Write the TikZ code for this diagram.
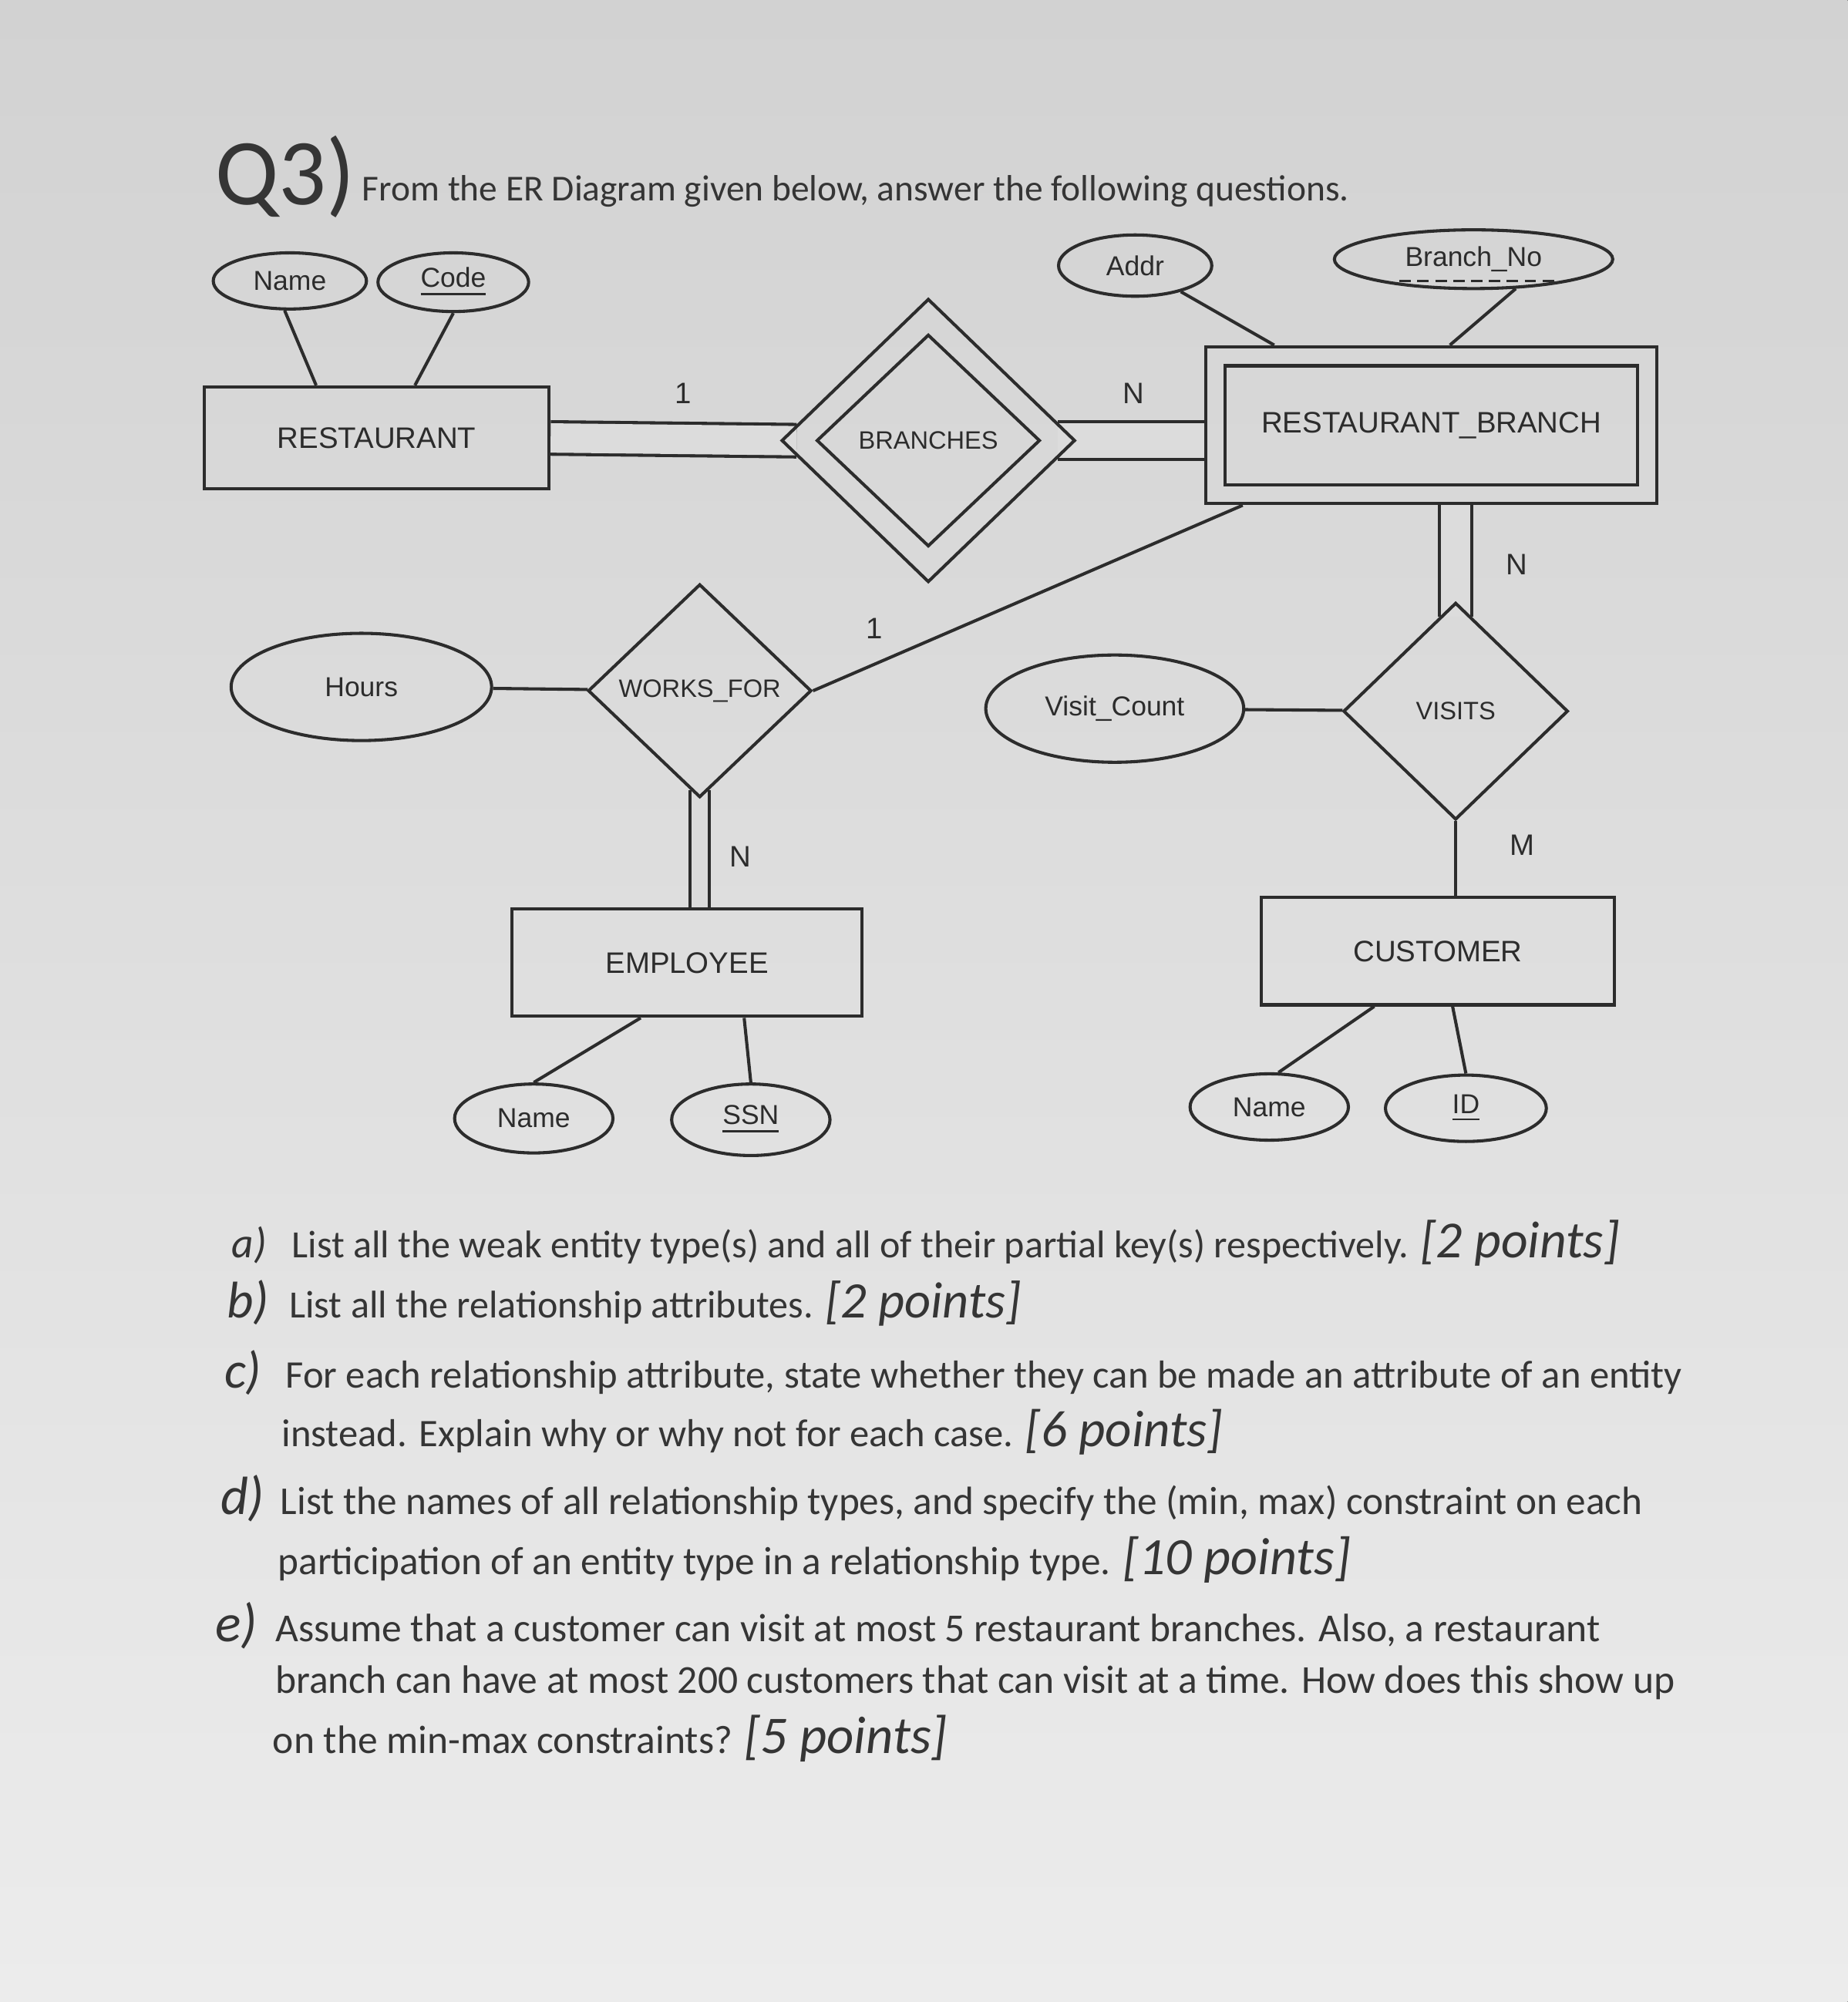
\documentclass[tikz,border=0pt]{standalone}
\usepackage{fontspec}
\setmainfont{Carlito}
\newfontfamily\diafont{Liberation Sans}
\usetikzlibrary{shapes.geometric}
\pgfdeclarelayer{paper}
\pgfdeclarelayer{back}
\pgfsetlayers{paper,back,main}

\definecolor{ink}{HTML}{2C2C2C}
\definecolor{qink}{HTML}{353535}
\definecolor{papertop}{HTML}{D2D2D2}
\definecolor{papermid}{HTML}{DCDCDC}
\definecolor{paperbot}{HTML}{ECECEC}

\newcommand{\pts}[2]{{\fontsize{#1}{#1}\selectfont\itshape[#2 points]}}
\newcommand{\qlab}[2]{{\fontsize{#1}{#1}\selectfont\itshape #2)}}

\begin{document}
\begin{tikzpicture}
[x=0.1mm,y=-0.1mm,%%%%%%%%%%%%%%%%%%%%%%%%%%%%%%
entity/.style={rectangle,draw=ink,line width=0.7pt,text=ink,inner sep=0pt,font=\diafont\fontsize{6.6}{8}\selectfont},
attr/.style={ellipse,draw=ink,line width=0.7pt,text=ink,inner sep=0pt,font=\diafont\fontsize{6.1}{7}\selectfont},
rel/.style={diamond,draw=ink,line width=0.7pt,text=ink,inner sep=0.5pt,font=\diafont\fontsize{5.6}{7}\selectfont},
card/.style={text=ink,inner sep=0pt,font=\diafont\fontsize{6.6}{8}\selectfont},
link/.style={draw=ink,line width=0.7pt},
dbl/.style={draw=ink,line width=0.7pt,double=papermid},
qline/.style={anchor=base west,inner sep=0pt,text=qink},
]%%%%%%%%%%%%%%%%%%%%%%%%%%%%%%

\useasboundingbox (0,0) rectangle (1447,1568);
\begin{pgfonlayer}{paper}
\fill[top color=papertop,bottom color=paperbot] (0,0) rectangle (1447,1568);
\end{pgfonlayer}

% heading
\node[qline,font=\fontsize{21}{24}\selectfont] (qnum) at (168,160) {Q3)};
\node[qline,font=\fontsize{8.15}{10}\selectfont] (qhead) at (283,157) {From the ER Diagram given below, answer the following questions.};

% entities and relationships
\node[entity,minimum width=27mm,minimum height=8mm] (rest) at (295,343) {RESTAURANT};
\node[attr,minimum width=12mm,minimum height=4.4mm] (rname) at (227,220) {Name};
\node[attr,minimum width=11.8mm,minimum height=4.6mm] (rcode) at (355,221) {\underline{Code}};
\node[rel,minimum width=23mm,minimum height=22.2mm] (brout) at (727,345) {};
\node[rel,minimum width=17.5mm,minimum height=16.6mm] (branches) at (727,345) {BRANCHES};
\node[entity,minimum width=35.3mm,minimum height=12.3mm] (rbout) at (1121,333) {};
\node[entity,minimum width=32.3mm,minimum height=9.3mm] (rb) at (1121,333) {RESTAURANT\_BRANCH};
\node[attr,minimum width=12mm,minimum height=4.8mm] (addr) at (889,208) {Addr};
\node[attr,minimum width=21.8mm,minimum height=4.6mm] (bno) at (1154,203) {Branch\_No};
\draw[ink,line width=0.6pt,dash pattern=on 0.9mm off 0.5mm] ([shift={(-58,17)}]bno.center) -- ([shift={(64,17)}]bno.center);
\node[rel,minimum width=17.5mm,minimum height=16.7mm] (wf) at (548,541) {WORKS\_FOR};
\node[attr,minimum width=20.4mm,minimum height=8.4mm] (hours) at (283,538) {Hours};
\node[attr,minimum width=20.2mm,minimum height=8.4mm] (vc) at (873,555) {Visit\_Count};
\node[rel,minimum width=17.6mm,minimum height=17mm] (visits) at (1140,557) {VISITS};
\node[entity,minimum width=27.7mm,minimum height=8.4mm] (cust) at (1126,745) {CUSTOMER};
\node[attr,minimum width=12.4mm,minimum height=5.2mm] (cname) at (994,867) {Name};
\node[attr,minimum width=12.6mm,minimum height=5.2mm] (cid) at (1148,868) {\underline{ID}};
\node[entity,minimum width=27.4mm,minimum height=8.4mm] (emp) at (538,754) {EMPLOYEE};
\node[attr,minimum width=12.4mm,minimum height=5.4mm] (ename) at (418,876) {Name};
\node[attr,minimum width=12.4mm,minimum height=5.6mm] (ssn) at (588,877) {\underline{SSN}};

% cardinalities
\node[card] (cone) at (535,308) {1};
\node[card] (cnbr) at (888,308) {N};
\node[card] (cnvis) at (1188,442) {N};
\node[card] (cmvis) at (1192,662) {M};
\node[card] (conewf) at (685,492) {1};
\node[card] (cnwf) at (580,671) {N};

% connectors
\draw[link] (rname.-100) -- (rest.139);
\draw[link] (rcode.-90) -- (rest.54);
\draw[link] (addr) -- (rbout.153);
\draw[link] (bno.-35) -- (rbout.77);
\draw[link] (vc) -- (visits);
\draw[link] (visits.south) -- (visits.south |- cust.north);
\draw[link] (cust.221) -- (cname.75);
\draw[link] (cust.-75) -- (cid.north);
\draw[link] (hours) -- (wf);
\draw[link] (wf.east) -- (rbout.203);
\draw[link] (emp.230) -- (ename.north);
\draw[link] (emp.-44) -- (ssn.north);
\begin{pgfonlayer}{back}
\draw[dbl,double distance=2.3mm,shorten >=-1.3mm] (rest.east) -- (brout.west);
\draw[dbl,double distance=2.7mm,shorten <=-1.5mm] (brout.east) -- (brout.east -| rbout.west);
\draw[dbl,double distance=2.3mm,shorten >=-1.2mm] (visits.north |- rbout.south) -- (visits.north);
\draw[dbl,double distance=1.3mm,shorten <=-0.7mm] (wf.south) -- (wf.south |- emp.north);
\end{pgfonlayer}

% questions
\node[qline] (laba) at (181,985) {\qlab{9.5}{a}};
\node[qline,font=\fontsize{8.6}{10}\selectfont] (qa) at (228,985) {List all the weak entity type(s) and all of their partial key(s) respectively. \pts{11.6}{2}};
\node[qline] (labb) at (177,1032) {\qlab{11.5}{b}};
\node[qline,font=\fontsize{8.6}{10}\selectfont] (qb) at (226,1032) {List all the relationship attributes. \pts{11.4}{2}};
\node[qline] (labc) at (175,1087) {\qlab{11.5}{c}};
\node[qline,font=\fontsize{8.7}{10}\selectfont] (qc) at (223,1087) {For each relationship attribute, state whether they can be made an attribute of an entity};
\node[qline,font=\fontsize{8.7}{10}\selectfont] (qcc) at (220,1133) {instead. Explain why or why not for each case. \pts{11.5}{6}};
\node[qline] (labd) at (172,1186) {\qlab{12}{d}};
\node[qline,font=\fontsize{8.8}{10}\selectfont] (qd) at (219,1186) {List the names of all relationship types, and specify the (min, max) constraint on each};
\node[qline,font=\fontsize{8.8}{10}\selectfont] (qdd) at (217,1233) {participation of an entity type in a relationship type. \pts{11.7}{10}};
\node[qline] (labe) at (168,1286) {\qlab{12}{e}};
\node[qline,font=\fontsize{8.85}{10}\selectfont] (qe) at (215,1286) {Assume that a customer can visit at most 5 restaurant branches. Also, a restaurant};
\node[qline,font=\fontsize{8.85}{10}\selectfont] (qee) at (215,1326) {branch can have at most 200 customers that can visit at a time. How does this show up};
\node[qline,font=\fontsize{8.85}{10}\selectfont] (qeee) at (213,1373) {on the min-max constraints? \pts{11.8}{5}};
\end{tikzpicture}
\end{document}
